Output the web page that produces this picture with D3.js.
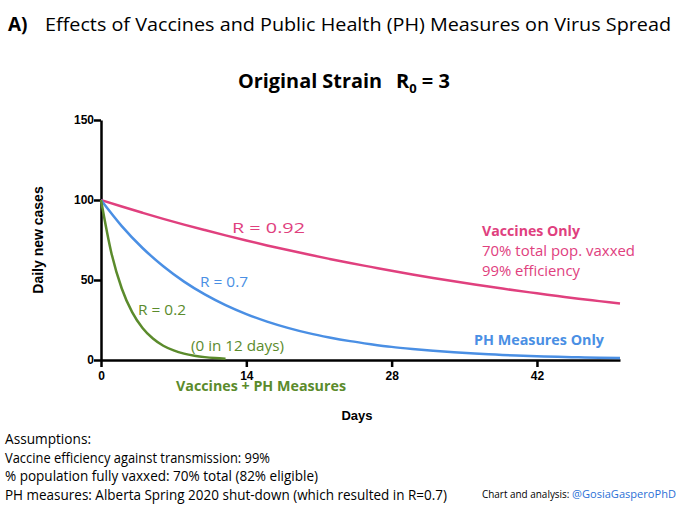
<!DOCTYPE html>
<html>
<head>
<meta charset="utf-8">
<script src="https://cdn.jsdelivr.net/npm/d3@7"></script>
<style>
  html, body { margin: 0; padding: 0; background: #fff; }
  svg { display: block; }
</style>
</head>
<body>
<div id="chart"></div>
<script>
'use strict';

// Days sampled for the two slower curves (every 2 days)
const days = [0, 2, 4, 6, 8, 10, 12, 14, 16, 18, 20, 22, 24, 26, 28, 30, 32, 34, 36, 38, 40, 42, 44, 46, 48, 50];
// Vaccines only, R = 0.92
const vaccinesOnly = [100, 95.9, 92, 88.2, 84.6, 81.2, 77.9, 74.7, 71.6, 68.7, 65.9, 63.2, 60.6, 58.2, 55.8, 53.5, 51.3, 49.2, 47.2, 45.3, 43.4, 41.7, 40, 38.3, 36.8, 35.3];
// PH measures only, R = 0.7
const phOnly = [100, 83.7, 70, 58.6, 49, 41, 34.3, 28.7, 24, 20.1, 16.8, 14.1, 11.8, 9.9, 8.2, 6.9, 5.8, 4.8, 4.0, 3.4, 2.8, 2.4, 2.0, 1.7, 1.4, 1.2];
// Vaccines + PH measures, R = 0.2 (daily, ends at day 12)
const comboDays = [0, 1, 2, 3, 4, 5, 6, 7, 8, 9, 10, 11, 12];
const comboValues = [100, 66.9, 44.7, 29.9, 20, 13.4, 8.9, 6.0, 4.0, 2.7, 1.8, 1.2, 0.8];

const xTicks = [0, 14, 28, 42];
const yTicks = [0, 50, 100, 150];

const footnotes = [
    'Assumptions:',
    'Vaccine efficiency against transmission: 99%',
    '% population fully vaxxed: 70% total (82% eligible)',
    'PH measures: Alberta Spring 2020 shut-down (which resulted in R=0.7)'
];
const footnoteWidths = [86, 265, 313, 442];

const PINK = '#e0407e';
const BLUE = '#4a8fe4';
const GREEN = '#5b8b2c';
const SANS = '"Open Sans", "Noto Sans", sans-serif';
const BOLD = '"Liberation Sans", Arial, sans-serif';

const W = 680, H = 508;
const svg = d3.select('#chart').append('svg').attr('width', W).attr('height', H);

const x = d3.scaleLinear().domain([0, 50]).range([101, 620]);
const y = d3.scaleLinear().domain([0, 150]).range([360, 120]);

// Titles
svg.append('text').attr('x', 8).attr('y', 31)
    .attr('font-family', SANS).attr('font-weight', 700).attr('font-size', 19)
    .text('A)');
svg.append('text').attr('x', 45).attr('y', 31)
    .attr('font-family', SANS).attr('font-size', 19)
    .attr('textLength', 626).attr('lengthAdjust', 'spacingAndGlyphs')
    .text('Effects of Vaccines and Public Health (PH) Measures on Virus Spread');

svg.append('text').attr('x', 238).attr('y', 88)
    .attr('font-family', SANS).attr('font-weight', 700).attr('font-size', 20)
    .attr('textLength', 144).attr('lengthAdjust', 'spacingAndGlyphs')
    .text('Original Strain');
const r0 = svg.append('text').attr('x', 396).attr('y', 88)
    .attr('font-family', SANS).attr('font-weight', 700).attr('font-size', 20);
r0.append('tspan').text('R');
r0.append('tspan').attr('font-size', 13).attr('dy', 5).text('0');
r0.append('tspan').attr('dy', -5).text(' = 3');

// Axes
const axisStyle = g => {
    g.select('.domain').attr('stroke', '#000').attr('stroke-width', 2.5);
    g.selectAll('.tick line').attr('stroke', '#000').attr('stroke-width', 2.5);
    g.selectAll('.tick text').attr('font-family', BOLD).attr('font-weight', 700)
        .attr('font-size', 12).attr('fill', '#000');
};

svg.append('g').attr('transform', `translate(0,${y(0)})`)
    .call(d3.axisBottom(x).tickValues(xTicks).tickSize(7).tickSizeOuter(0).tickPadding(4))
    .call(axisStyle);

svg.append('g').attr('transform', `translate(${x(0)},0)`)
    .call(d3.axisLeft(y).tickValues(yTicks).tickSize(7).tickSizeOuter(0).tickPadding(0))
    .call(axisStyle);

svg.append('text').attr('x', 357).attr('y', 420).attr('text-anchor', 'middle')
    .attr('font-family', BOLD).attr('font-weight', 700).attr('font-size', 13)
    .text('Days');
svg.append('text').attr('transform', 'translate(43,240) rotate(-90)').attr('text-anchor', 'middle')
    .attr('font-family', BOLD).attr('font-weight', 700).attr('font-size', 14)
    .text('Daily new cases');

// Curves
const line = d3.line().x(d => x(d[0])).y(d => y(d[1])).curve(d3.curveMonotoneX);
const series = [
    { xs: days, ys: vaccinesOnly, color: PINK },
    { xs: days, ys: phOnly, color: BLUE },
    { xs: comboDays, ys: comboValues, color: GREEN }
];
svg.selectAll('path.curve').data(series).join('path')
    .attr('class', 'curve')
    .attr('d', s => line(s.xs.map((d, i) => [d, s.ys[i]])))
    .attr('fill', 'none').attr('stroke', s => s.color).attr('stroke-width', 2.5);

// Labels
const label = (tx, ty, txt, color, opts = {}) => svg.append('text')
    .attr('x', tx).attr('y', ty)
    .attr('font-family', SANS).attr('font-size', opts.size || 15)
    .attr('font-weight', opts.bold ? 700 : 400).attr('fill', color)
    .attr('textLength', opts.len || null).attr('lengthAdjust', 'spacingAndGlyphs')
    .text(txt);

label(232, 233, 'R = 0.92', PINK, { len: 73 });
label(200, 287, 'R = 0.7', BLUE, { len: 48 });
label(138, 315, 'R = 0.2', GREEN, { len: 48 });
label(191, 351, '(0 in 12 days)', GREEN, { len: 93 });
label(176, 391, 'Vaccines + PH Measures', GREEN, { bold: true, len: 170 });

label(482, 236, 'Vaccines Only', PINK, { bold: true, len: 98 });
label(482, 256, '70% total pop. vaxxed', PINK, { len: 153 });
label(482, 276, '99% efficiency', PINK, { len: 98 });
label(474, 345, 'PH Measures Only', BLUE, { bold: true, len: 130 });

// Footnotes
svg.selectAll('text.foot').data(footnotes).join('text')
    .attr('class', 'foot')
    .attr('x', 5).attr('y', (d, i) => 444 + i * 18.5)
    .attr('font-family', SANS).attr('font-size', 14).attr('fill', '#000')
    .attr('textLength', (d, i) => footnoteWidths[i]).attr('lengthAdjust', 'spacingAndGlyphs')
    .text(d => d);

const credit = svg.append('text').attr('x', 482).attr('y', 498)
    .attr('font-family', SANS).attr('font-size', 10);
credit.append('tspan').attr('fill', '#000')
    .attr('textLength', 90).attr('lengthAdjust', 'spacingAndGlyphs')
    .text('Chart and analysis: ');
credit.append('tspan').attr('x', 572).attr('fill', '#2a6fd6')
    .attr('textLength', 104).attr('lengthAdjust', 'spacingAndGlyphs')
    .text('@GosiaGasperoPhD');
</script>
</body>
</html>
